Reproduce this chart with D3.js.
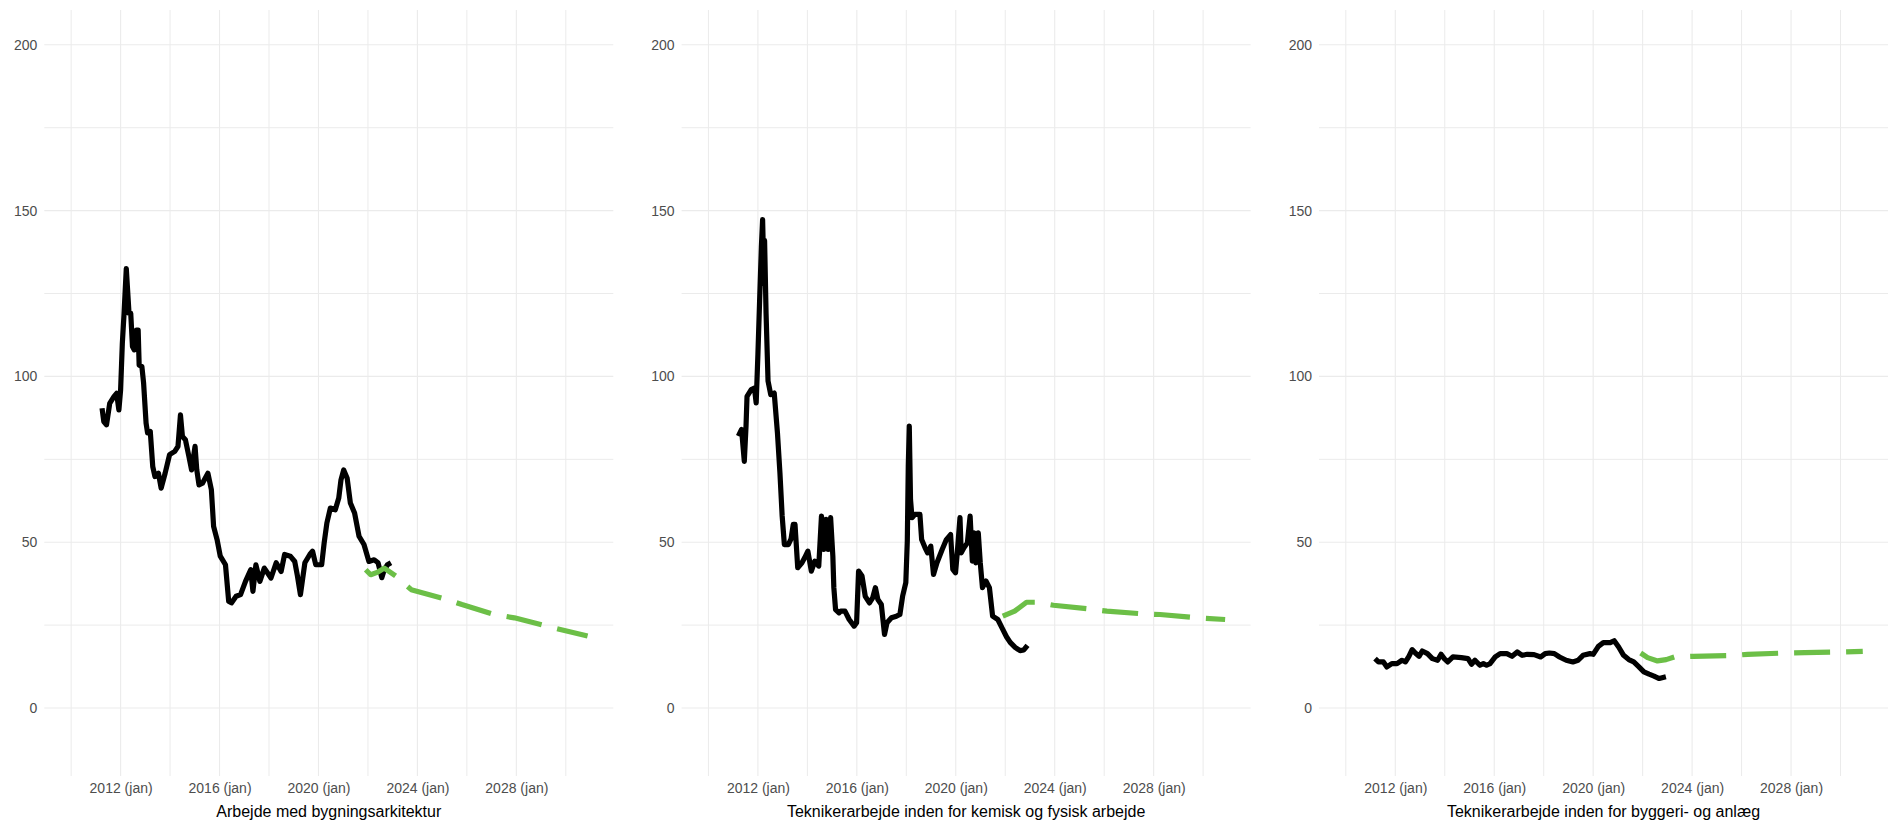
<!DOCTYPE html>
<html>
<head>
<meta charset="utf-8">
<script src="https://cdn.jsdelivr.net/npm/d3@7"></script>
<style>
  html, body { margin: 0; padding: 0; background: #ffffff; }
  svg { display: block; }
</style>
</head>
<body>
<svg id="chart" width="1892" height="822"></svg>
<script>
// ---------- DATA ----------
const panelTitles = [
  "Arbejde med bygningsarkitektur",
  "Teknikerarbejde inden for kemisk og fysisk arbejde",
  "Teknikerarbejde inden for byggeri- og anlæg"
];
const xTickYears = [2012, 2016, 2020, 2024, 2028];
const xTickLabels = ["2012 (jan)", "2016 (jan)", "2020 (jan)", "2024 (jan)", "2028 (jan)"];
const xMinorYears = [2010, 2014, 2018, 2022, 2026, 2030];
const yTicks = [0, 50, 100, 150, 200];
const yMinor = [25, 75, 125, 175];

// Panel 1 – actual
const p1Years = [2011.25, 2011.32, 2011.43, 2011.56, 2011.73, 2011.84, 2011.93, 2012.0, 2012.07, 2012.14, 2012.23, 2012.34, 2012.41, 2012.48, 2012.55, 2012.64, 2012.71, 2012.75, 2012.86, 2012.93, 2013.03, 2013.09, 2013.2, 2013.3, 2013.39, 2013.53, 2013.64, 2013.8, 2013.98, 2014.19, 2014.32, 2014.42, 2014.5, 2014.62, 2014.76, 2014.87, 2015.01, 2015.08, 2015.17, 2015.31, 2015.53, 2015.67, 2015.76, 2015.9, 2016.03, 2016.24, 2016.37, 2016.48, 2016.67, 2016.85, 2017.05, 2017.26, 2017.35, 2017.47, 2017.63, 2017.81, 2018.08, 2018.29, 2018.49, 2018.63, 2018.86, 2019.04, 2019.15, 2019.27, 2019.45, 2019.65, 2019.76, 2019.89, 2020.13, 2020.23, 2020.34, 2020.48, 2020.68, 2020.82, 2020.91, 2021.02, 2021.16, 2021.29, 2021.46, 2021.64, 2021.84, 2022.04, 2022.25, 2022.41, 2022.56, 2022.66, 2022.79, 2022.93];
const p1Values = [90.4, 86.4, 85.4, 91.9, 93.9, 94.9, 89.9, 95.9, 110, 119, 132.5, 119, 119, 109, 108, 114, 114, 103.4, 103, 98, 85.9, 83, 83.4, 72.8, 69.8, 70.8, 66.3, 70.8, 76.4, 77.4, 78.9, 88.4, 81.9, 80.9, 75.9, 71.8, 78.9, 71.8, 67.3, 67.8, 70.8, 65.8, 54.8, 50.8, 45.8, 43.2, 32.2, 31.7, 33.7, 34.2, 38.2, 41.7, 35.2, 43.2, 38.2, 42.2, 39.2, 43.8, 41.2, 46.3, 45.8, 44.2, 39.8, 34.2, 43.8, 46.3, 47.3, 43.2, 43.2, 49.8, 55.8, 60.3, 59.8, 63.3, 68.8, 71.8, 69.3, 61.8, 58.8, 51.8, 49.3, 44.2, 44.7, 43.8, 39.3, 41.7, 43.2, 43.8];
// Panel 1 – forecast
const p1FcYears = [2021.91, 2022.11, 2022.4, 2022.66, 2023.14, 2023.75, 2025.12, 2025.8, 2027.1, 2027.92, 2029.22, 2030.88];
const p1FcValues = [41.7, 40.2, 41.0, 42.2, 39.7, 35.7, 32.9, 31.2, 28.2, 27.2, 24.7, 21.7];

// Panel 2 – actual
const p2Years = [2011.21, 2011.34, 2011.45, 2011.52, 2011.56, 2011.73, 2011.86, 2011.93, 2012.0, 2012.07, 2012.14, 2012.19, 2012.25, 2012.27, 2012.33, 2012.41, 2012.52, 2012.66, 2012.79, 2012.89, 2012.98, 2013.07, 2013.23, 2013.34, 2013.43, 2013.5, 2013.61, 2013.78, 2013.89, 2014.02, 2014.16, 2014.3, 2014.46, 2014.57, 2014.66, 2014.76, 2014.84, 2014.94, 2015.03, 2015.07, 2015.14, 2015.28, 2015.35, 2015.52, 2015.69, 2015.89, 2015.99, 2016.07, 2016.21, 2016.34, 2016.51, 2016.64, 2016.75, 2016.85, 2016.99, 2017.12, 2017.22, 2017.4, 2017.6, 2017.74, 2017.85, 2017.98, 2018.04, 2018.08, 2018.12, 2018.17, 2018.23, 2018.35, 2018.55, 2018.62, 2018.76, 2018.86, 2018.99, 2019.1, 2019.24, 2019.45, 2019.62, 2019.79, 2019.88, 2019.99, 2020.06, 2020.17, 2020.22, 2020.33, 2020.47, 2020.58, 2020.67, 2020.74, 2020.81, 2020.91, 2020.99, 2021.08, 2021.22, 2021.36, 2021.49, 2021.7, 2021.9, 2022.05, 2022.2, 2022.4, 2022.6, 2022.75, 2022.9];
const p2Values = [82, 84, 74.4, 85, 94, 96, 96.5, 92, 106.6, 123, 139, 147.3, 128, 141, 119, 98.6, 94.5, 95, 83, 71, 58, 49.3, 49.3, 51, 55.4, 55.4, 42.3, 43.8, 45.3, 47.3, 41.3, 44.3, 42.8, 57.9, 47.8, 56.9, 47.8, 57.4, 45.8, 36.3, 29.7, 28.7, 29.2, 29.2, 26.7, 24.7, 25.7, 41.3, 39.8, 33.7, 31.7, 33.2, 36.3, 32.7, 31.2, 22.2, 25.7, 27.2, 27.7, 28.2, 33.7, 37.8, 50.3, 72.9, 85, 62.9, 57.4, 58.4, 58.4, 50.8, 48.3, 46.8, 48.8, 40.3, 43.8, 47.8, 50.8, 52.3, 41.8, 40.8, 46.8, 57.4, 46.8, 48.3, 49.8, 57.9, 44.3, 52.8, 43.8, 52.8, 43.8, 36.3, 38.3, 36.3, 27.7, 26.7, 23.7, 21.5, 19.8, 18.3, 17.3, 17.5, 18.9];
// Panel 2 – forecast
const p2FcYears = [2021.9, 2022.38, 2022.86, 2023.27, 2023.95, 2025.36, 2026.11, 2027.55, 2028.26, 2029.76, 2030.89];
const p2FcValues = [27.7, 29.2, 31.9, 31.9, 31.0, 29.9, 29.2, 28.4, 28.2, 27.2, 26.7];

// Panel 3 – actual
const p3Years = [2011.18, 2011.32, 2011.52, 2011.66, 2011.86, 2012.07, 2012.27, 2012.41, 2012.55, 2012.68, 2012.82, 2012.96, 2013.09, 2013.3, 2013.5, 2013.71, 2013.85, 2013.98, 2014.12, 2014.33, 2014.67, 2014.94, 2015.08, 2015.22, 2015.42, 2015.56, 2015.69, 2015.83, 2016.04, 2016.24, 2016.51, 2016.72, 2016.93, 2017.13, 2017.34, 2017.61, 2017.88, 2018.06, 2018.23, 2018.43, 2018.64, 2018.91, 2019.18, 2019.39, 2019.59, 2019.87, 2020.0, 2020.21, 2020.41, 2020.69, 2020.85, 2021.03, 2021.23, 2021.44, 2021.64, 2021.85, 2022.05, 2022.26, 2022.46, 2022.67, 2022.94];
const p3Values = [14.9, 13.9, 13.9, 12.4, 13.4, 13.4, 14.4, 13.9, 15.6, 17.6, 16.5, 15.6, 17.2, 16.4, 14.9, 14.4, 16.2, 14.9, 13.9, 15.4, 15.2, 14.9, 13.2, 14.4, 12.9, 13.4, 12.9, 13.4, 15.4, 16.4, 16.4, 15.6, 16.9, 15.9, 16.2, 16.1, 15.4, 16.4, 16.6, 16.4, 15.4, 14.4, 13.9, 14.4, 15.9, 16.4, 16.2, 18.6, 19.7, 19.7, 20.3, 18.4, 15.9, 14.6, 13.9, 12.4, 10.9, 10.2, 9.6, 8.9, 9.4];
// Panel 3 – forecast
const p3FcYears = [2021.92, 2022.2, 2022.6, 2022.95, 2023.29, 2024.05, 2025.55, 2026.24, 2027.78, 2028.56, 2030.07, 2030.9];
const p3FcValues = [16.6, 15.2, 14.2, 14.6, 15.4, 15.6, 15.8, 16.2, 16.6, 16.7, 16.9, 17.1];

const panels = [
  { title: panelTitles[0], years: p1Years, values: p1Values, fcYears: p1FcYears, fcValues: p1FcValues },
  { title: panelTitles[1], years: p2Years, values: p2Values, fcYears: p2FcYears, fcValues: p2FcValues },
  { title: panelTitles[2], years: p3Years, values: p3Values, fcYears: p3FcYears, fcValues: p3FcValues }
];

// ---------- LAYOUT ----------
const panelLefts = [44.3, 681.6, 1319];
const panelWidth = 569;
const panelTop = 10;
const panelBottom = 776;
const font = "Arial, 'Liberation Sans', Helvetica, sans-serif";
const gridCol = "#ebebeb";
const lineCol = "#000000";
const fcCol = "#6cbf47";

const svg = d3.select("#chart");

const y = d3.scaleLinear().domain([-20.5, 210.5]).range([panelBottom, panelTop]);

panels.forEach((p, i) => {
  const left = panelLefts[i];
  const x = d3.scaleLinear().domain([2008.915, 2031.92]).range([left, left + panelWidth]);
  const g = svg.append("g");

  g.selectAll(".vminor").data(xMinorYears).enter().append("line")
    .attr("x1", d => x(d)).attr("x2", d => x(d))
    .attr("y1", panelTop).attr("y2", panelBottom)
    .attr("stroke", gridCol).attr("stroke-width", 1);
  g.selectAll(".vmajor").data(xTickYears).enter().append("line")
    .attr("x1", d => x(d)).attr("x2", d => x(d))
    .attr("y1", panelTop).attr("y2", panelBottom)
    .attr("stroke", gridCol).attr("stroke-width", 1.1);
  g.selectAll(".hminor").data(yMinor).enter().append("line")
    .attr("x1", left).attr("x2", left + panelWidth)
    .attr("y1", d => y(d)).attr("y2", d => y(d))
    .attr("stroke", gridCol).attr("stroke-width", 1);
  g.selectAll(".hmajor").data(yTicks).enter().append("line")
    .attr("x1", left).attr("x2", left + panelWidth)
    .attr("y1", d => y(d)).attr("y2", d => y(d))
    .attr("stroke", gridCol).attr("stroke-width", 1.1);

  const yAxis = d3.axisLeft(y).tickValues(yTicks).tickSize(0).tickPadding(7);
  const ya = g.append("g").attr("transform", `translate(${left},0)`).call(yAxis);
  ya.select(".domain").remove();
  ya.selectAll("text").attr("font-family", font).attr("font-size", 14).attr("fill", "#4d4d4d");

  const xAxis = d3.axisBottom(x).tickValues(xTickYears)
    .tickFormat((d, j) => xTickLabels[j]).tickSize(0).tickPadding(7);
  const xa = g.append("g").attr("transform", `translate(0,${panelBottom})`).call(xAxis);
  xa.select(".domain").remove();
  xa.selectAll("text").attr("font-family", font).attr("font-size", 14).attr("fill", "#4d4d4d");

  g.append("text")
    .attr("x", left + panelWidth / 2).attr("y", 817)
    .attr("text-anchor", "middle")
    .attr("font-family", font).attr("font-size", 16).attr("fill", "#000")
    .text(p.title);

  const line = d3.line().x(d => x(d[0])).y(d => y(d[1]));

  g.append("path")
    .datum(p.years.map((yr, k) => [yr, p.values[k]]))
    .attr("d", line)
    .attr("fill", "none").attr("stroke", lineCol)
    .attr("stroke-width", 5.2).attr("stroke-linejoin", "round");

  g.append("path")
    .datum(p.fcYears.map((yr, k) => [yr, p.fcValues[k]]))
    .attr("d", line)
    .attr("fill", "none").attr("stroke", fcCol)
    .attr("stroke-width", 5.2).attr("stroke-linejoin", "round")
    .attr("stroke-dasharray", "36,16");
});
</script>
</body>
</html>
